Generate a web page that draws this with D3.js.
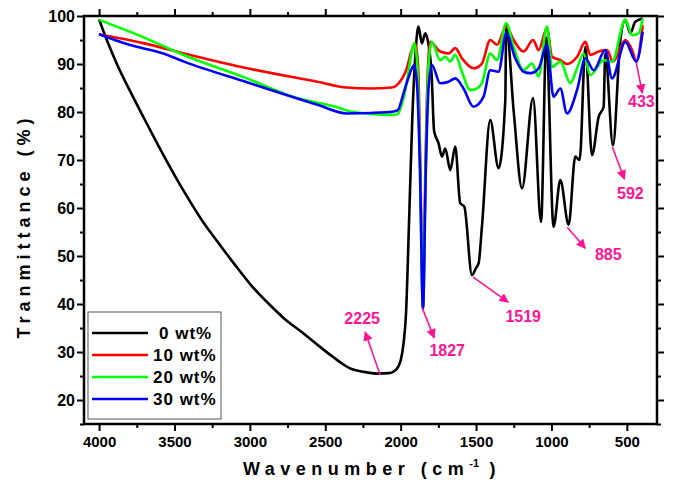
<!DOCTYPE html>
<html>
<head>
<meta charset="utf-8">
<script src="https://cdn.jsdelivr.net/npm/d3@7"></script>
<style>
  html, body { margin: 0; padding: 0; background: #fff; }
  text { font-family: Arial, "Liberation Sans", sans-serif; font-weight: bold; }
</style>
</head>
<body>
<div id="chart"></div>
<script>
/* ============================================================
   DATA — [wavenumber (cm-1), transmittance (%)]
============================================================ */

const SERIES_NAMES = ["0 wt%", "10 wt%", "20 wt%", "30 wt%"];
const SERIES_COLORS = ["#000000", "#ff0000", "#00ff00", "#0000ff"];

const wt0 = [
    [4000, 99.3], [3950, 95.1], [3879, 89.8], [3800, 84.7], [3702, 78.7],
    [3600, 72.6], [3436, 63.4], [3300, 56.6], [3215, 53.0], [3100, 48.2],
    [2994, 44.0], [2880, 40.2], [2773, 37.0], [2650, 34.0], [2552, 31.5],
    [2450, 29.0], [2375, 27.3], [2330, 26.5], [2250, 25.9], [2154, 25.5],
    [2080, 25.6], [2043, 26.0], [2015, 27.0], [1998, 28.5], [1980, 32.0],
    [1965, 37.7], [1943, 58.5], [1922, 79.4], [1900, 93.0], [1882, 97.8],
    [1859, 94.3], [1837, 96.4], [1815, 94.0], [1795, 88.0], [1778, 76.0],
    [1749, 73.5], [1726, 70.7], [1704, 72.4], [1671, 67.9], [1638, 72.8],
    [1605, 61.0], [1578, 60.3], [1527, 46.0], [1500, 47.5], [1483, 48.5],
    [1461, 56.1], [1406, 78.3], [1351, 68.3], [1306, 82.5], [1300, 98.1],
    [1250, 80.0], [1195, 64.1], [1122, 82.9], [1069, 57.1], [1034, 95.5],
    [986, 56.1], [941, 65.8], [886, 56.5], [842, 70.7], [813, 70.0],
    [775, 93.6], [731, 71.0], [687, 79.0], [654, 81.1], [643, 92.2],
    [592, 73.1], [543, 95.0], [510, 99.2], [477, 96.4], [444, 98.8],
    [395, 99.5]
];

const wt10 = [
    [4000, 96.2], [3700, 94.3], [3436, 92.2], [3000, 89.0], [2552, 86.3],
    [2357, 85.1], [2200, 84.9], [2060, 85.1], [2025, 85.6], [1990, 87.0],
    [1960, 89.0], [1930, 92.5], [1904, 94.3], [1885, 90.0], [1870, 70.0],
    [1852, 39.0], [1835, 70.0], [1818, 90.0], [1804, 94.6], [1738, 92.6],
    [1682, 92.2], [1638, 93.3], [1594, 91.2], [1517, 89.1], [1461, 90.1],
    [1406, 95.0], [1361, 94.0], [1300, 97.8], [1251, 95.0], [1185, 92.6],
    [1122, 95.0], [1085, 92.9], [1030, 97.5], [996, 91.5], [941, 90.8],
    [897, 90.0], [830, 91.5], [775, 94.6], [742, 91.9], [687, 92.6],
    [631, 92.9], [592, 90.5], [510, 95.0], [465, 92.9], [437, 90.5],
    [395, 98.1]
];

const wt20 = [
    [4000, 99.2], [3700, 95.5], [3463, 92.2], [3020, 87.0], [2700, 83.0],
    [2401, 80.8], [2357, 80.3], [2200, 79.6], [2047, 79.4], [2019, 79.6],
    [1988, 82.1], [1960, 86.0], [1935, 91.0], [1910, 94.3], [1890, 90.0],
    [1872, 70.0], [1852, 39.0], [1833, 70.0], [1815, 90.0], [1793, 94.6],
    [1738, 90.8], [1704, 91.5], [1671, 90.5], [1638, 91.9], [1594, 88.4],
    [1539, 84.6], [1494, 84.9], [1461, 86.0], [1406, 92.2], [1361, 90.8],
    [1300, 98.5], [1251, 93.6], [1185, 88.7], [1129, 90.1], [1085, 87.4],
    [1030, 97.8], [996, 89.4], [941, 90.5], [875, 86.0], [830, 89.1],
    [787, 92.2], [742, 87.7], [654, 90.8], [598, 90.5], [510, 99.2],
    [465, 96.0], [422, 96.4], [395, 99.5]
];

const wt30 = [
    [4000, 96.2], [3800, 94.0], [3574, 92.2], [3436, 90.5], [3020, 86.2],
    [2552, 81.5], [2357, 79.7], [2200, 79.8], [2047, 80.1], [2019, 80.4],
    [1981, 83.9], [1950, 87.0], [1910, 89.8], [1890, 85.0], [1872, 68.0],
    [1852, 39.0], [1833, 68.0], [1815, 85.0], [1793, 89.8], [1738, 86.0],
    [1682, 86.3], [1638, 87.0], [1583, 84.9], [1517, 81.1], [1450, 83.2],
    [1406, 88.7], [1351, 88.4], [1300, 96.4], [1240, 91.2], [1185, 88.4],
    [1140, 88.1], [1085, 89.1], [1030, 94.0], [986, 83.2], [941, 84.9],
    [897, 79.7], [830, 84.6], [775, 91.2], [720, 88.7], [643, 92.9],
    [598, 87.0], [510, 94.6], [437, 90.5], [395, 96.7]
];

const SERIES = [wt0, wt10, wt20, wt30];

const X_TICKS = [4000, 3500, 3000, 2500, 2000, 1500, 1000, 500];
const X_MINOR = [3750, 3250, 2750, 2250, 1750, 1250, 750];
const Y_TICKS = [20, 30, 40, 50, 60, 70, 80, 90, 100];
const Y_MINOR = [15, 25, 35, 45, 55, 65, 75, 85, 95];

// peak labels: text, and the curve point the arrow starts from
const PEAK_LABELS = ["2225", "1827", "1519", "885", "592", "433"];
const PEAK_POINTS = [[2136, 25.2], [1857, 39.2], [1519, 45.6], [895, 56.0], [596, 72.7], [437, 90.2]];

/* ============================================================
   LAYOUT
============================================================ */

const W = 675, H = 486;
const margin = { top: 16, right: 18, bottom: 62, left: 84 };
const width = W - margin.left - margin.right;
const height = H - margin.top - margin.bottom;

const svg = d3.select("#chart").append("svg")
    .attr("width", W)
    .attr("height", H);

const g = svg.append("g")
    .attr("transform", `translate(${margin.left},${margin.top})`);

const xScale = d3.scaleLinear().domain([4100, 300]).range([0, width]);
const yScale = d3.scaleLinear().domain([15, 100]).range([height, 0]);

/* ============================================================
   AXES
============================================================ */

function styleAxis(sel, fontSize) {
    sel.select(".domain").remove();
    sel.selectAll(".tick line").attr("stroke", "#000").attr("stroke-width", 2);
    if (fontSize) {
        sel.selectAll(".tick text")
            .attr("fill", "#000")
            .attr("font-size", fontSize)
            .attr("font-family", "Arial, 'Liberation Sans', sans-serif")
            .attr("font-weight", "bold");
    } else {
        sel.selectAll(".tick text").remove();
    }
}

g.append("g").attr("transform", `translate(0,${height})`)
    .call(d3.axisBottom(xScale).tickValues(X_TICKS).tickSize(7).tickPadding(5).tickFormat(d3.format("d")))
    .call(s => styleAxis(s, "15px"));
g.append("g").attr("transform", `translate(0,${height})`)
    .call(d3.axisBottom(xScale).tickValues(X_MINOR).tickSize(4))
    .call(s => styleAxis(s, null));
g.append("g")
    .call(d3.axisTop(xScale).tickValues(X_TICKS).tickSize(7))
    .call(s => styleAxis(s, null));
g.append("g")
    .call(d3.axisTop(xScale).tickValues(X_MINOR).tickSize(4))
    .call(s => styleAxis(s, null));

g.append("g")
    .call(d3.axisLeft(yScale).tickValues(Y_TICKS).tickSize(7).tickPadding(2))
    .call(s => styleAxis(s, "16px"));
g.append("g")
    .call(d3.axisLeft(yScale).tickValues(Y_MINOR).tickSize(4))
    .call(s => styleAxis(s, null));
g.append("g").attr("transform", `translate(${width},0)`)
    .call(d3.axisRight(yScale).tickValues(Y_TICKS).tickSize(7))
    .call(s => styleAxis(s, null));
g.append("g").attr("transform", `translate(${width},0)`)
    .call(d3.axisRight(yScale).tickValues(Y_MINOR).tickSize(4))
    .call(s => styleAxis(s, null));

/* ============================================================
   LINES
============================================================ */

const line = d3.line()
    .x(d => xScale(d[0]))
    .y(d => yScale(d[1]))
    .curve(d3.curveMonotoneX);

svg.append("clipPath").attr("id", "plot-clip")
    .append("rect").attr("width", width).attr("height", height);

g.append("g").attr("clip-path", "url(#plot-clip)")
    .selectAll("path.series")
    .data(SERIES)
    .join("path")
    .attr("class", "series")
    .attr("d", line)
    .attr("fill", "none")
    .attr("stroke", (d, i) => SERIES_COLORS[i])
    .attr("stroke-width", 2.6)
    .attr("stroke-linejoin", "round");

// frame drawn over the curves
g.append("rect")
    .attr("width", width)
    .attr("height", height)
    .attr("fill", "none")
    .attr("stroke", "#000")
    .attr("stroke-width", 2.5);

/* ============================================================
   PEAK ANNOTATIONS
============================================================ */

const PINK = "#ff1493";

svg.append("defs").append("marker")
    .attr("id", "arrowhead")
    .attr("viewBox", "0 0 10 10")
    .attr("refX", 9).attr("refY", 5)
    .attr("markerWidth", 6).attr("markerHeight", 6)
    .attr("orient", "auto")
    .append("path")
    .attr("d", "M0,0 L10,5 L0,10 Z")
    .attr("fill", PINK);

// arrow vector and label offset, relative to the curve point (px)
const arrowOffsets = [[-15, -43], [12, 30], [35, 25], [18, 21], [12, 32], [6, 30]];
const labelOffsets = [[-18, -51], [25, 48], [50, 45], [41, 33], [18, 52], [5, 44]];

const ann = g.append("g");
PEAK_LABELS.forEach((lab, i) => {
    const px = xScale(PEAK_POINTS[i][0]);
    const py = yScale(PEAK_POINTS[i][1]);
    ann.append("line")
        .attr("x1", px).attr("y1", py)
        .attr("x2", px + arrowOffsets[i][0]).attr("y2", py + arrowOffsets[i][1])
        .attr("stroke", PINK)
        .attr("stroke-width", 1.6)
        .attr("marker-end", "url(#arrowhead)");
    ann.append("text")
        .attr("x", px + labelOffsets[i][0])
        .attr("y", py + labelOffsets[i][1])
        .attr("text-anchor", "middle")
        .attr("font-size", "16px")
        .attr("fill", PINK)
        .text(lab);
});

/* ============================================================
   LEGEND
============================================================ */

const legend = g.append("g").attr("transform", "translate(4,296)");
legend.append("rect")
    .attr("width", 133).attr("height", 107)
    .attr("fill", "#fff")
    .attr("stroke", "#555")
    .attr("stroke-width", 1);

SERIES_NAMES.forEach((name, i) => {
    const yy = 21 + i * 22;
    legend.append("line")
        .attr("x1", 4).attr("x2", 60)
        .attr("y1", yy).attr("y2", yy)
        .attr("stroke", SERIES_COLORS[i])
        .attr("stroke-width", 2.6);
    legend.append("text")
        .attr("x", i === 0 ? 71 : 65)
        .attr("y", yy + 6)
        .attr("font-size", "17px")
        .attr("letter-spacing", "1px")
        .attr("fill", "#000")
        .text(name);
});

/* ============================================================
   AXIS TITLES
============================================================ */

const xTitle = svg.append("text")
    .attr("x", margin.left + 288)
    .attr("y", 475)
    .attr("text-anchor", "middle")
    .attr("font-size", "18px")
    .attr("letter-spacing", "5.5px")
    .attr("fill", "#000");
xTitle.append("tspan").text("Wavenumber (cm");
xTitle.append("tspan").attr("font-size", "11px").attr("dy", -8).attr("letter-spacing", "0px").text("-1");
xTitle.append("tspan").attr("dy", 8).text(" )");

svg.append("text")
    .attr("transform", `translate(30,${margin.top + 210}) rotate(-90)`)
    .attr("text-anchor", "middle")
    .attr("font-size", "18px")
    .attr("letter-spacing", "5px")
    .attr("fill", "#000")
    .text("Tranmittance (%)");
</script>
</body>
</html>
